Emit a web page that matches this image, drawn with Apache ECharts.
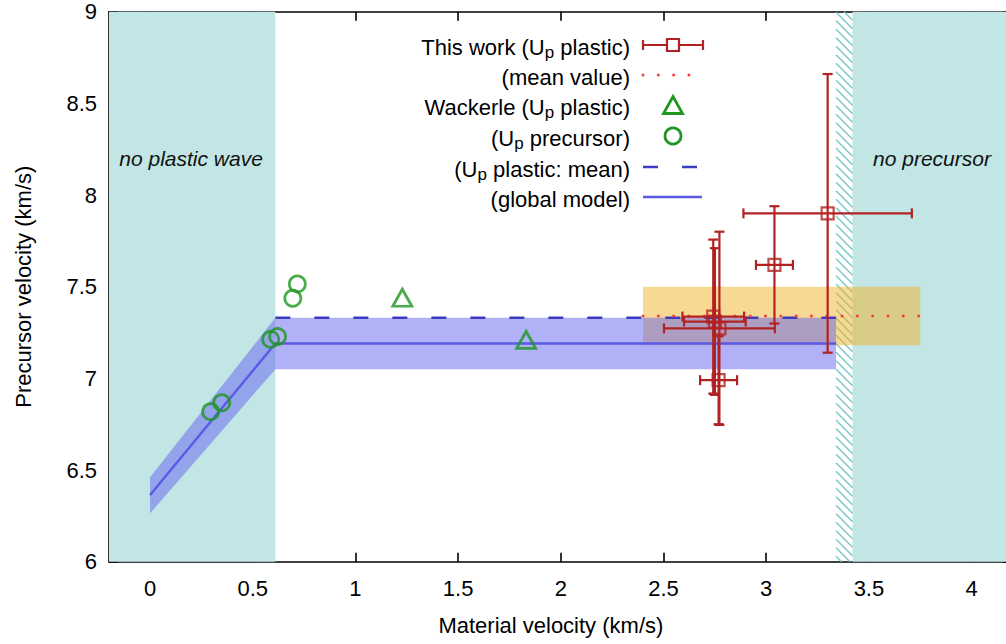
<!DOCTYPE html>
<html><head><meta charset="utf-8">
<script src="https://cdn.jsdelivr.net/npm/echarts@6/dist/echarts.min.js"></script>
<style>html,body{margin:0;padding:0;background:#fff}#c{width:1006px;height:644px}</style>
</head><body><div id="c"></div>
<script>
// ---- tick labels ----
const xTicks = [0, 0.5, 1, 1.5, 2, 2.5, 3, 3.5, 4];
const yTicks = [6, 6.5, 7, 7.5, 8, 8.5, 9];

// ---- shaded regions [x0, x1, y0, y1] ----
const noPlasticRegion = [-0.2, 0.61, 6, 9];
const hatchRegion = [3.34, 3.42, 6, 9];
const noPrecursorRegion = [3.42, 4.2, 6, 9];
const meanBandRegion = [2.4, 3.75, 7.18, 7.50];
const meanValueX = [2.4, 3.75];
const meanValueY = 7.34;

// ---- This work (Up plastic) ----
const workX = [2.742, 2.750, 2.772, 2.768, 3.040, 3.299];
const workY = [7.337, 7.310, 7.273, 6.990, 7.619, 7.900];
const workXErr = [0.15, 0.15, 0.27, 0.09, 0.09, 0.41];
const workYErr = [0.42, 0.40, 0.527, 0.24, 0.32, 0.76];

// ---- Wackerle ----
const wackPlasticX = [1.228, 1.831];
const wackPlasticY = [7.44, 7.21];
const wackPrecX = [0.295, 0.349, 0.587, 0.621, 0.695, 0.717];
const wackPrecY = [6.818, 6.867, 7.213, 7.228, 7.437, 7.515];

// ---- global model ----
const modelX = [0, 0.61, 3.34];
const modelY = [6.364, 7.19, 7.19];
const modelUpper = [6.46, 7.33, 7.33];
const modelLower = [6.264, 7.05, 7.05];
const plasticMeanX = [0.61, 3.34];
const plasticMeanY = 7.33;

// ---- annotations ----
const annotations = [
  { x: -0.15, y: 8.2, text: 'no plastic wave' },
  { x: 3.52, y: 8.2, text: 'no precursor' }
];
const legendLabels = [
  'This work (U{s|p} plastic)',
  '(mean value)',
  'Wackerle (U{s|p} plastic)',
  '(U{s|p} precursor)',
  '(U{s|p} plastic: mean)',
  '(global model)'
];

const FONT = "'Liberation Sans', Arial, Helvetica, sans-serif";
const C_RED = '#b22222', C_GREEN = '#1f961f', C_CYAN = '#c2e5e5', C_HATCH = '#7ecaca';
const C_DOT = '#f04040', C_MODEL = '#5a5ae6', C_DASH = '#3c3cc0';
const C_BAND = 'rgba(100,100,240,0.5)', C_ORANGE = 'rgba(240,180,40,0.5)';

const chart = echarts.init(document.getElementById('c'), null, { renderer: 'svg', width: 1006, height: 644 });

function rectRender(fill) {
  return function (params, api) {
    const a = api.coord([api.value(0), api.value(3)]);
    const b = api.coord([api.value(1), api.value(2)]);
    return { type: 'rect', shape: { x: a[0], y: a[1], width: b[0] - a[0], height: b[1] - a[1] }, style: { fill: fill } };
  };
}

function hatchRender(params, api) {
  const a = api.coord([api.value(0), api.value(3)]);
  const b = api.coord([api.value(1), api.value(2)]);
  const x1 = a[0], y1 = a[1], x2 = b[0], y2 = b[1];
  const children = [];
  const step = 8.5;
  for (let c = y1 - x2; c <= y2 - x1; c += step) {
    const xs = Math.max(x1, y1 - c), xe = Math.min(x2, y2 - c);
    if (xe > xs) children.push({ type: 'line', shape: { x1: xs, y1: xs + c, x2: xe, y2: xe + c }, style: { stroke: C_HATCH, lineWidth: 1.6 } });
  }
  return { type: 'group', children: children };
}

function bandRender(params, api) {
  const pts = [];
  for (let i = 0; i < modelX.length; i++) pts.push(api.coord([modelX[i], modelUpper[i]]));
  for (let i = modelX.length - 1; i >= 0; i--) pts.push(api.coord([modelX[i], modelLower[i]]));
  return { type: 'polygon', shape: { points: pts }, style: { fill: C_BAND } };
}

function errRender(params, api) {
  const x = api.value(0), y = api.value(1), xe = api.value(2), ye = api.value(3);
  const L = api.coord([x - xe, y]), R = api.coord([x + xe, y]);
  const T = api.coord([x, y + ye]), B = api.coord([x, y - ye]);
  const cap = 5, st = { stroke: C_RED, lineWidth: 2.2 };
  const ln = (x1, y1, x2, y2) => ({ type: 'line', shape: { x1, y1, x2, y2 }, style: st });
  return { type: 'group', children: [
    ln(L[0], L[1], R[0], R[1]),
    ln(L[0], L[1] - cap, L[0], L[1] + cap),
    ln(R[0], R[1] - cap, R[0], R[1] + cap),
    ln(T[0], T[1], B[0], B[1]),
    ln(T[0] - cap, T[1], T[0] + cap, T[1]),
    ln(B[0] - cap, B[1], B[0] + cap, B[1])
  ] };
}

function annRender(params, api) {
  const p = api.coord([api.value(0), api.value(1)]);
  return { type: 'text', x: p[0], y: p[1], style: {
    text: annotations[params.dataIndex].text, fontFamily: FONT, fontSize: 21, fontStyle: 'italic',
    fill: '#111', align: 'left', verticalAlign: 'middle' } };
}

const axisLineStyle = { color: '#000', width: 1.6 };
const tickStyle = { color: '#000', width: 1.6 };
const textBase = { fontFamily: FONT, fontSize: 22, color: '#000' };

// ---- legend (drawn as graphic) ----
const LX = 630, SX0 = 643, SX1 = 703, SXC = 673;
const rowY = [45, 75, 105, 136, 167, 197];
const legendG = [];
legendLabels.forEach((t, i) => {
  legendG.push({ type: 'text', x: LX, y: rowY[i] + 2, z: 100, style: {
    text: t, fontFamily: FONT, fontSize: 22, fill: '#000', align: 'right', verticalAlign: 'middle',
    rich: { s: { fontFamily: FONT, fontSize: 17, padding: [11, 0, 0, 0] } } } });
});
const eb = { stroke: C_RED, lineWidth: 2.2 };
legendG.push(
  { type: 'line', z: 100, shape: { x1: SX0, y1: rowY[0], x2: SX1, y2: rowY[0] }, style: eb },
  { type: 'line', z: 100, shape: { x1: SX0, y1: rowY[0] - 5, x2: SX0, y2: rowY[0] + 5 }, style: eb },
  { type: 'line', z: 100, shape: { x1: SX1, y1: rowY[0] - 5, x2: SX1, y2: rowY[0] + 5 }, style: eb },
  { type: 'rect', z: 101, shape: { x: SXC - 6, y: rowY[0] - 6, width: 12, height: 12 }, style: { fill: '#fff', stroke: C_RED, lineWidth: 2.2 } },
  { type: 'line', z: 100, shape: { x1: SX0, y1: rowY[1], x2: 690, y2: rowY[1] }, style: { stroke: C_DOT, lineWidth: 3, lineDash: [0.01, 15.3], lineCap: 'round' } },
  { type: 'polygon', z: 100, shape: { points: [[SXC, rowY[2] - 8.5], [SXC + 9.5, rowY[2] + 8.5], [SXC - 9.5, rowY[2] + 8.5]] }, style: { fill: 'none', stroke: C_GREEN, lineWidth: 2.8 } },
  { type: 'circle', z: 100, shape: { cx: SXC, cy: rowY[3], r: 8 }, style: { fill: 'none', stroke: C_GREEN, lineWidth: 2.8 } },
  { type: 'line', z: 100, shape: { x1: SX0, y1: rowY[4], x2: 697, y2: rowY[4] }, style: { stroke: C_DASH, lineWidth: 2.5, lineDash: [15, 24] } },
  { type: 'line', z: 100, shape: { x1: SX0, y1: rowY[5], x2: SX1 - 1, y2: rowY[5] }, style: { stroke: C_MODEL, lineWidth: 2.4 } }
);

const option = {
  backgroundColor: '#fff',
  animation: false,
  grid: { left: 109, right: -6.7, top: 11.7, bottom: 82.3, containLabel: false, outerBoundsMode: 'none' },
  xAxis: [{
    type: 'value', min: -0.2, max: 4.2, position: 'bottom',
    axisLine: { show: true, onZero: false, lineStyle: axisLineStyle },
    axisTick: { show: true, inside: true, length: 9, customValues: xTicks, lineStyle: tickStyle },
    axisLabel: Object.assign({ customValues: xTicks, margin: 16, formatter: v => String(v) }, textBase),
    splitLine: { show: false },
    name: 'Material velocity (km/s)', nameLocation: 'middle', nameGap: 53,
    nameTextStyle: Object.assign({ padding: [0, 20, 0, 0] }, textBase)
  }, {
    type: 'value', min: -0.2, max: 4.2, position: 'top',
    axisLine: { show: true, onZero: false, lineStyle: axisLineStyle },
    axisTick: { show: true, inside: true, length: 9, customValues: xTicks, lineStyle: tickStyle },
    axisLabel: { show: false }, splitLine: { show: false }
  }],
  yAxis: [{
    type: 'value', min: 6, max: 9, interval: 0.5, position: 'left',
    axisLine: { show: true, onZero: false, lineStyle: axisLineStyle },
    axisTick: { show: true, inside: true, length: 9, customValues: yTicks, lineStyle: tickStyle },
    axisLabel: Object.assign({ customValues: yTicks, margin: 12, formatter: v => String(v) }, textBase),
    splitLine: { show: false },
    name: 'Precursor velocity (km/s)', nameLocation: 'middle', nameGap: 75,
    nameTextStyle: textBase
  }, {
    type: 'value', min: 6, max: 9, interval: 0.5, position: 'right',
    axisLine: { show: true, onZero: false, lineStyle: axisLineStyle },
    axisTick: { show: true, inside: true, length: 9, customValues: yTicks, lineStyle: tickStyle },
    axisLabel: { show: false }, splitLine: { show: false }
  }],
  graphic: legendG,
  series: [
    { type: 'custom', name: 'regions', z: 1, silent: true, renderItem: rectRender(C_CYAN),
      encode: { x: [0, 1], y: [2, 3] }, data: [noPlasticRegion, noPrecursorRegion] },
    { type: 'custom', name: 'hatch', z: 1, silent: true, renderItem: hatchRender,
      encode: { x: [0, 1], y: [2, 3] }, data: [hatchRegion] },
    { type: 'custom', name: 'mean band', z: 2, silent: true, renderItem: rectRender(C_ORANGE),
      encode: { x: [0, 1], y: [2, 3] }, data: [meanBandRegion] },
    { type: 'custom', name: 'model band', z: 3, silent: true, renderItem: bandRender,
      encode: { x: 0, y: [1, 2] }, data: [[modelX[0], modelLower[0], modelUpper[0]]] },
    { type: 'line', name: '(global model)', z: 4, symbol: 'none', silent: true,
      lineStyle: { color: C_MODEL, width: 2.4 }, data: modelX.map((x, i) => [x, modelY[i]]) },
    { type: 'line', name: '(Up plastic: mean)', z: 4, symbol: 'none', silent: true,
      lineStyle: { color: C_DASH, width: 2.5, type: [15, 24] }, data: plasticMeanX.map(x => [x, plasticMeanY]) },
    { type: 'line', name: '(mean value)', z: 5, symbol: 'none', silent: true,
      lineStyle: { color: C_DOT, width: 3, type: [0.01, 15.3], cap: 'round' }, data: meanValueX.map(x => [x, meanValueY]) },
    { type: 'custom', name: 'error bars', z: 6, silent: true, renderItem: errRender,
      encode: { x: 0, y: 1 }, data: workX.map((x, i) => [x, workY[i], workXErr[i], workYErr[i]]) },
    { type: 'scatter', name: 'This work (Up plastic)', z: 7, symbol: 'rect', symbolSize: 12, silent: true,
      itemStyle: { color: 'rgba(0,0,0,0)', borderColor: C_RED, borderWidth: 2.2 },
      data: workX.map((x, i) => [x, workY[i]]) },
    { type: 'scatter', name: 'Wackerle (Up plastic)', z: 7, symbol: 'triangle', symbolSize: [19, 17], silent: true,
      itemStyle: { color: 'rgba(0,0,0,0)', borderColor: C_GREEN, borderWidth: 2.8 },
      data: wackPlasticX.map((x, i) => [x, wackPlasticY[i]]) },
    { type: 'scatter', name: '(Up precursor)', z: 7, symbol: 'circle', symbolSize: 16, silent: true,
      itemStyle: { color: 'rgba(0,0,0,0)', borderColor: C_GREEN, borderWidth: 2.8 },
      data: wackPrecX.map((x, i) => [x, wackPrecY[i]]) },
    { type: 'custom', name: 'annotations', z: 8, silent: true, renderItem: annRender,
      encode: { x: 0, y: 1 }, data: annotations.map(a => [a.x, a.y]) }
  ]
};
chart.setOption(option);
</script></body></html>
